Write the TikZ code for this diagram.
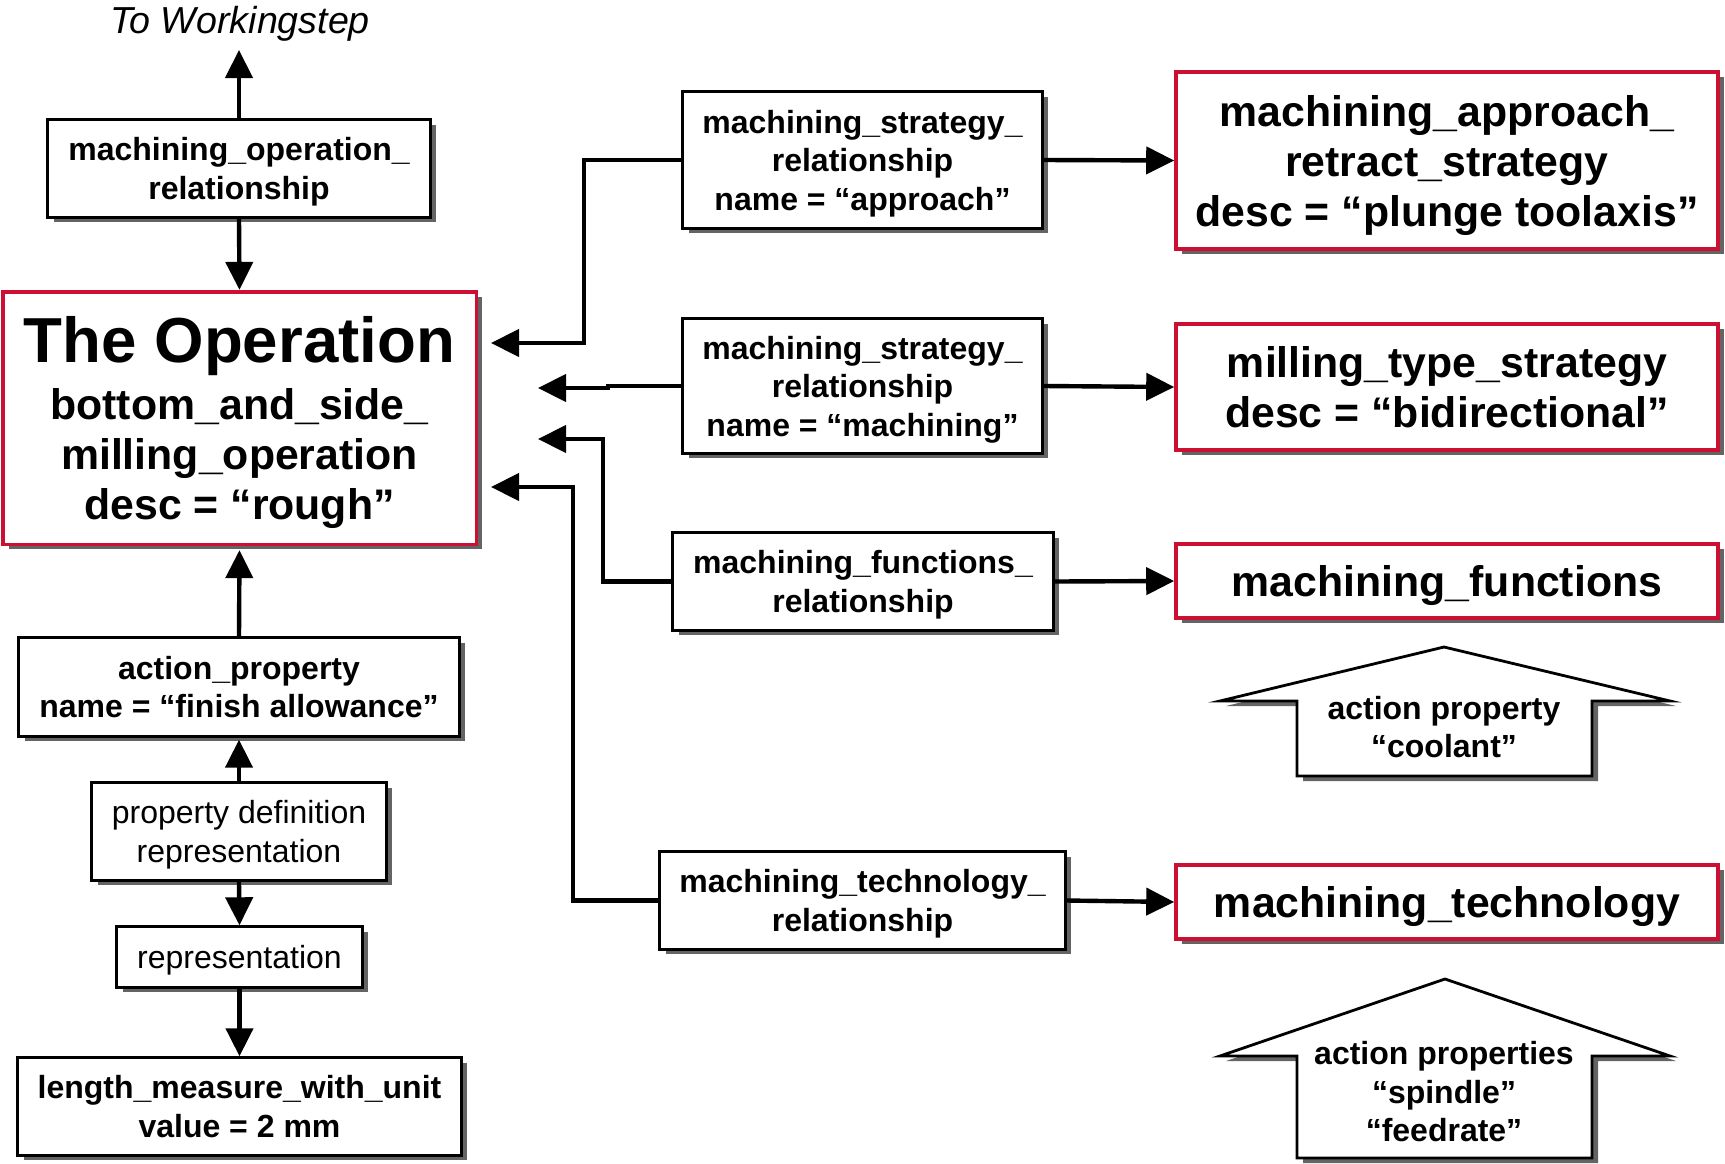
\documentclass[tikz,border=0pt]{standalone}
\usepackage{fontspec}
\setmainfont{Liberation Sans}
\usetikzlibrary{arrows.meta,shadows}
\definecolor{opred}{RGB}{204,16,52}
\definecolor{shadowgrey}{RGB}{100,100,100}

\tikzset{
  boxshadow/.style={drop shadow={shadow xshift=3pt, shadow yshift=-2.5pt, fill=shadowgrey, opacity=1}},
  box/.style={draw=black, line width=1.4pt, fill=white, inner sep=0pt, align=center,
    boxshadow, font=\bfseries\fontsize{16pt}{19.25pt}\selectfont},
  plainbox/.style={box, font=\fontsize{16pt}{19.25pt}\selectfont},
  redbox/.style={box, draw=opred, line width=1.8pt, minimum width=271pt,
    font=\bfseries\fontsize{21.4pt}{25pt}\selectfont},
  tdp/.style={text depth=#1},
  conn/.style={line width=2.2pt, -{Triangle[width=13.5pt,length=14pt]}},
  blockarrow/.style={draw=black, line width=1.4pt, fill=white, boxshadow},
  arrowtext/.style={align=center, inner sep=0pt, font=\bfseries\fontsize{16pt}{19.25pt}\selectfont},
}

\begin{document}
\begin{tikzpicture}[x=0.5pt, y=-0.5pt]
\useasboundingbox (0,0) rectangle (1725,1163);

% ---- left column ----
\node[font=\itshape\fontsize{18.8pt}{22pt}\selectfont, inner sep=0pt] (ws) at (240,24) {To Workingstep};
\coordinate (ws-tip) at (239,50);

\node[box, tdp=-2.4pt, minimum width=191.3pt, minimum height=48.8pt] (mor) at (239,168.5)
  {machining\_operation\_\\relationship};

\node[box, tdp=-6.5pt, draw=opred, line width=1.8pt, minimum width=236.8pt, minimum height=126.3pt,
      font=\bfseries\fontsize{21.4pt}{25pt}\selectfont] (op) at (239.5,418)
  {{\fontsize{31.8pt}{25pt}\selectfont The Operation}\\[3.5pt]
   bottom\_and\_side\_\\milling\_operation\\desc = “rough”};

\node[box, tdp=-2pt, minimum width=220.3pt, minimum height=49.3pt] (ap) at (239,687)
  {action\_property\\name = “finish allowance”};

\node[plainbox, tdp=-2.6pt, minimum width=147.3pt, minimum height=48.8pt] (pdr) at (239,831.5)
  {property definition\\representation};

\node[plainbox, tdp=-0.6pt, minimum width=122.8pt, minimum height=30.3pt] (rep) at (239.5,957)
  {representation};

\node[box, tdp=-3.5pt, minimum width=221.8pt, minimum height=48.8pt] (len) at (239.5,1106.5)
  {length\_measure\_with\_unit\\value = 2 mm};

% ---- middle column ----
\node[box, tdp=-2pt, minimum width=179.8pt, minimum height=68.3pt] (msr1) at (862.5,160)
  {machining\_strategy\_\\relationship\\name = “approach”};
\node[box, tdp=-4.8pt, minimum width=179.8pt, minimum height=67.3pt] (msr2) at (862.5,386)
  {machining\_strategy\_\\relationship\\name = “machining”};
\node[box, tdp=-3.8pt, minimum width=190.3pt, minimum height=48.8pt] (mfr) at (863,581.5)
  {machining\_functions\_\\relationship};
\node[box, tdp=-5.5pt, minimum width=202.8pt, minimum height=48.8pt] (mtr) at (862.5,900.5)
  {machining\_technology\_\\relationship};

% ---- right column ----
\node[redbox, tdp=-0.5pt, minimum height=88.6pt] (mars) at (1447,160.5)
  {machining\_approach\_\\retract\_strategy\\desc = “plunge toolaxis”};
\node[redbox, minimum height=63.1pt] (mts) at (1447,387)
  {milling\_type\_strategy\\desc = “bidirectional”};
\node[redbox, tdp=-4.3pt, minimum height=37.1pt] (mf) at (1447,581)
  {machining\_functions};
\node[redbox, tdp=-4.3pt, minimum height=37.1pt] (mt) at (1447,902)
  {machining\_technology};

% ---- block arrows carrying action properties ----
\draw[blockarrow] (1444,647) -- (1670,701) -- (1592,701) -- (1592,776)
  -- (1297,776) -- (1297,701) -- (1220,701) -- cycle;
\node[arrowtext] (coolant) at (1444,727) {action property\\“coolant”};

\draw[blockarrow] (1445,979) -- (1670,1056) -- (1592,1056) -- (1592,1158)
  -- (1297,1158) -- (1297,1056) -- (1220,1056) -- cycle;
\node[arrowtext] (spindle) at (1444,1092) {action properties\\“spindle”\\“feedrate”};

% ---- connectors, left column ----
\draw[conn] (mor.north) -- (ws-tip);
\draw[conn] (mor.south) -- (op.north);
\draw[conn] (ap.north) -- ([yshift=-2pt]op.south);
\draw[conn] (pdr.north) -- ([yshift=-1pt]ap.south);
\draw[conn] (pdr.south) -- (rep.north);
\draw[conn] (rep.south) -- (len.north);

% ---- connectors into the operation ----
\coordinate (op-in1) at (491,343);
\coordinate (op-in2) at (538,388);
\coordinate (op-in3) at (538,439);
\coordinate (op-in4) at (491,487);
\draw[conn] (msr1.west) -| (584,343) -- (op-in1);
\draw[conn] (msr2.west) -- (608,386) -- (608,388) -- (op-in2);
\draw[conn] (mfr.west) -| (603,439) -- (op-in3);
\draw[conn] (mtr.west) -| (573,487) -- (op-in4);

% ---- connectors to the strategies and attributes ----
\draw[conn] (msr1.east) -- (mars.west);
\draw[conn] (msr2.east) -- (mts.west);
\draw[conn] (mfr.east) -- (mf.west);
\draw[conn] (mtr.east) -- (mt.west);
\end{tikzpicture}
\end{document}
